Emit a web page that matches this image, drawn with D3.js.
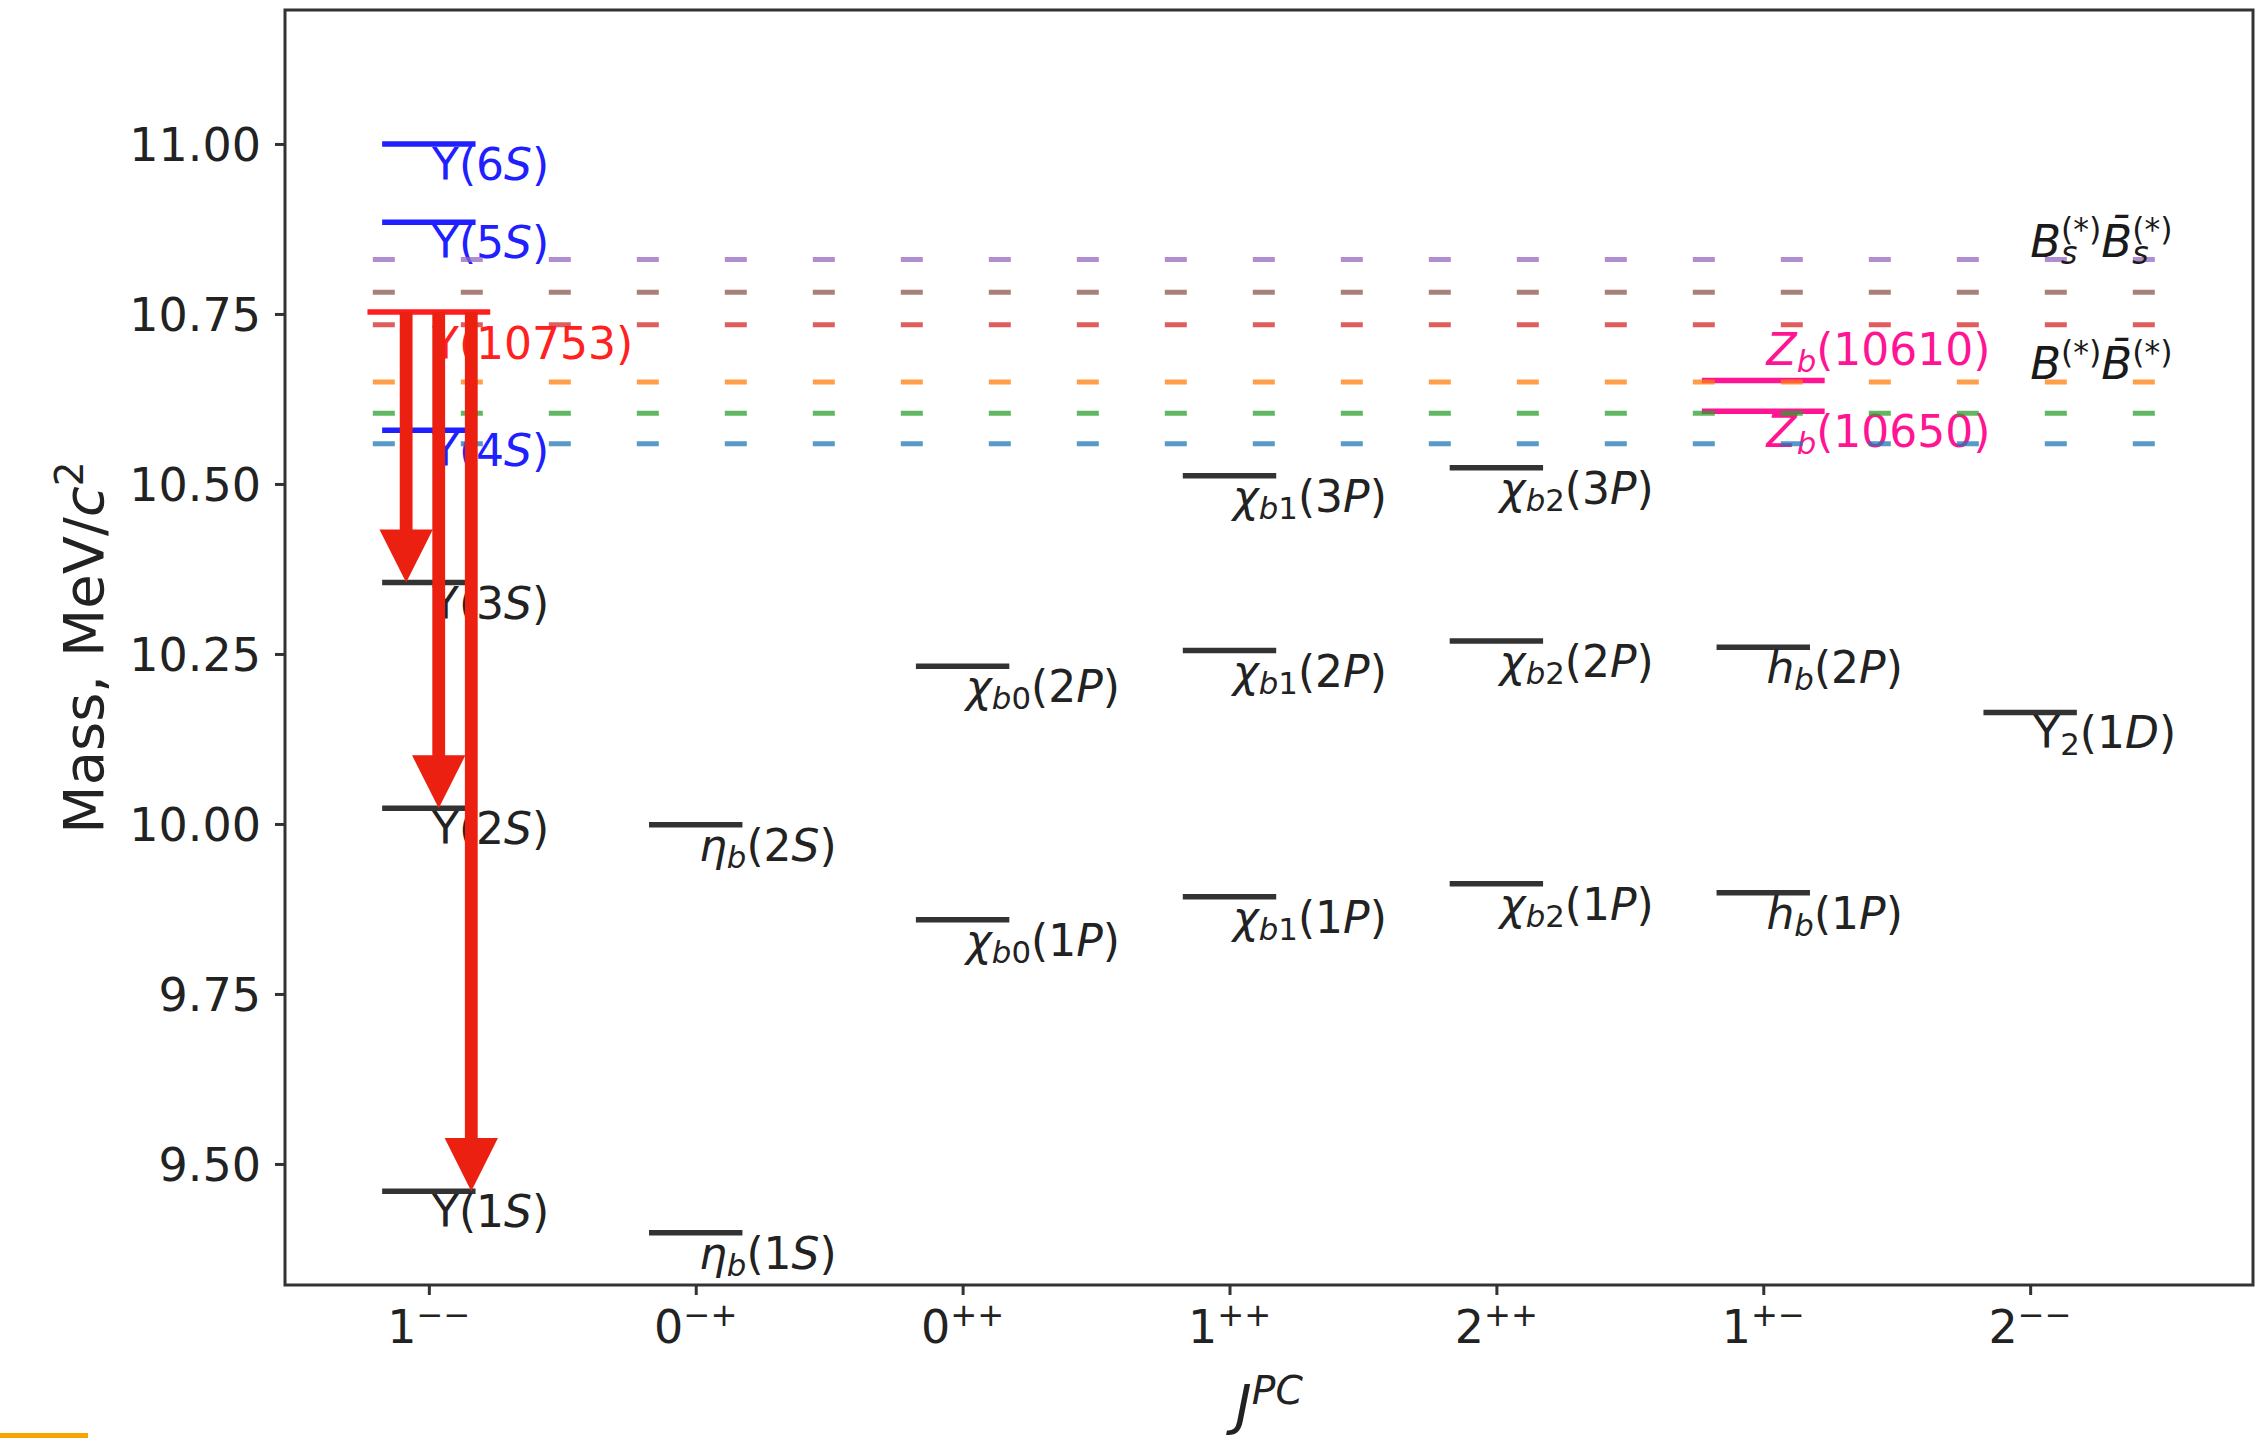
<!DOCTYPE html>
<html>
<head>
<meta charset="utf-8">
<script src="https://cdn.jsdelivr.net/npm/d3@7"></script>
<style>
  html, body { margin: 0; padding: 0; background: #fff; }
  svg text { font-family: "DejaVu Sans", sans-serif; white-space: pre; }
</style>
</head>
<body>
<svg id="chart" width="2256" height="1438"></svg>
<script>
// ---- J^PC columns and mass axis ----
const jpcLabels = ["1^{−−}", "0^{−+}", "0^{++}", "1^{++}", "2^{++}", "1^{+−}", "2^{−−}"];
const massTicks = [9.50, 9.75, 10.00, 10.25, 10.50, 10.75, 11.00];

// ---- bottomonium(-like) states: label markup (~ toggles italic), J^PC column, mass in GeV ----
const stateNames = [
  "Υ(1~S~)", "Υ(2~S~)", "Υ(3~S~)", "Υ(4~S~)", "Υ(5~S~)", "Υ(6~S~)", "Υ(10753)",
  "~η~_{~b~}(1~S~)", "~η~_{~b~}(2~S~)",
  "~χ~_{~b~0}(1~P~)", "~χ~_{~b~0}(2~P~)",
  "~χ~_{~b~1}(1~P~)", "~χ~_{~b~1}(2~P~)", "~χ~_{~b~1}(3~P~)",
  "~χ~_{~b~2}(1~P~)", "~χ~_{~b~2}(2~P~)", "~χ~_{~b~2}(3~P~)",
  "~h~_{~b~}(1~P~)", "~h~_{~b~}(2~P~)",
  "Υ_{2}(1~D~)",
  "~Z~_{~b~}(10610)", "~Z~_{~b~}(10650)"
];
const stateJPC = [0, 0, 0, 0, 0, 0, 0, 1, 1, 2, 2, 3, 3, 3, 4, 4, 4, 5, 5, 6, 5, 5];
const stateMass = [
  9.460, 10.023, 10.355, 10.579, 10.885, 11.000, 10.753,
  9.399, 9.999,
  9.859, 10.232,
  9.893, 10.255, 10.512,
  9.912, 10.269, 10.524,
  9.899, 10.260,
  10.164,
  10.607, 10.652
];
// bb: below open-bottom threshold, above: Υ above threshold, exotic: Y(10753), zb: charged Z_b
const stateKind = [
  "bb", "bb", "bb", "above", "above", "above", "exotic",
  "bb", "bb", "bb", "bb", "bb", "bb", "bb", "bb", "bb", "bb", "bb", "bb", "bb",
  "zb", "zb"
];

// ---- transitions drawn as arrows (indices into the state arrays) ----
const transitionFrom = [6, 6, 6];
const transitionTo = [2, 1, 0];

// ---- open-bottom thresholds (GeV): BB, BB*, B*B*, BsBs, BsBs*, Bs*Bs* ----
const thresholdMass = [10.559, 10.604, 10.650, 10.734, 10.782, 10.830];
const thresholdLabelText = ["~B~^{(*)}~B\u0304~^{(*)}", "~B~_{~s~}^{(*)}~B\u0304~_{~s~}^{(*)}"];
const thresholdLabelMass = [10.650, 10.830];

// ---- styles ----
const thresholdColors = ["#1f77b4", "#2ca02c", "#ff7f0e", "#d62728", "#8c564b", "#9467bd"];
const kindLine = { bb: "#333333", above: "#1f1fff", exotic: "#ff1f1f", zb: "#ff1493" };
const kindText = { bb: "#222222", above: "#2020ff", exotic: "#ff2020", zb: "#ff1493" };
const arrowColor = "#eb2010";

const plot = { left: 285, right: 2253, top: 10, bottom: 1285 };

const svg = d3.select("#chart");
const x = d3.scaleLinear().domain([-0.539, 6.835]).range([plot.left, plot.right]);
const y = d3.scaleLinear().domain([9.322, 11.197]).range([plot.bottom, plot.top]);

// ---- tiny mathtext-like renderer: ~italic~, _{sub}, ^{sup} ----
function parseRich(src) {
  const items = [];
  let italic = false, i = 0;
  const pushRun = (t, it) => {
    const last = items[items.length - 1];
    if (last && last.type === "run" && last.italic === it) last.text += t;
    else items.push({ type: "run", text: t, italic: it });
  };
  while (i < src.length) {
    const c = src[i];
    if (c === "~") { italic = !italic; i++; continue; }
    if ((c === "_" || c === "^") && src[i + 1] === "{") {
      let depth = 1, j = i + 2;
      while (j < src.length && depth > 0) {
        if (src[j] === "{") depth++; else if (src[j] === "}") depth--;
        j++;
      }
      const runs = parseRich(src.slice(i + 2, j - 1)).filter(d => d.type === "run");
      const key = c === "_" ? "sub" : "sup";
      const last = items[items.length - 1];
      if (last && last.type === "script" && !last[key]) last[key] = runs;
      else items.push({ type: "script", [key]: runs });
      i = j; continue;
    }
    pushRun(c, italic); i++;
  }
  return items;
}

const scratch = svg.append("text").attr("visibility", "hidden");
function measure(run, fs) {
  scratch.attr("font-size", fs).attr("font-style", run.italic ? "italic" : "normal").text(run.text);
  return scratch.node().getComputedTextLength();
}

// one <text> per label, each run placed as an absolutely positioned tspan
function richText(parent, src, opt) {
  const size = opt.size, fill = opt.fill || "#222";
  const pieces = [];
  let cx = 0;
  const place = (run, px, py, fs) => {
    const w = measure(run, fs);
    pieces.push({ run, px, py, fs });
    return w;
  };
  parseRich(src).forEach(it => {
    if (it.type === "run") { cx += place(it, cx, 0, size); return; }
    let wSub = 0, wSup = 0;
    if (it.sub) { let sx = cx; it.sub.forEach(r => { sx += place(r, sx, size * 0.16, size * 0.7); }); wSub = sx - cx; }
    if (it.sup) { let sx = cx; it.sup.forEach(r => { sx += place(r, sx, -size * 0.36, size * 0.7); }); wSup = sx - cx; }
    cx += Math.max(wSub, wSup);
  });
  const shift = opt.anchor === "middle" ? -cx / 2 : opt.anchor === "end" ? -cx : 0;
  const t = parent.append("text")
    .attr("transform", `translate(${opt.x},${opt.y}) rotate(${opt.rotate || 0})`)
    .attr("fill", fill);
  pieces.forEach(p => {
    t.append("tspan")
      .attr("x", p.px + shift).attr("y", p.py)
      .attr("font-size", p.fs)
      .attr("font-style", p.run.italic ? "italic" : "normal")
      .text(p.run.text);
  });
  return t;
}

// ---- axes ----
const yAxis = d3.axisLeft(y).tickValues(massTicks).tickFormat(d3.format(".2f"))
  .tickSize(10).tickSizeOuter(0).tickPadding(14);
const gy = svg.append("g").attr("transform", `translate(${plot.left},0)`).call(yAxis);
gy.select(".domain").remove();
gy.selectAll(".tick line").attr("stroke", "#333").attr("stroke-width", 3);
gy.selectAll(".tick text")
  .attr("font-size", 46).attr("font-family", "DejaVu Sans").attr("fill", "#222")
  .attr("dy", "0.365em");

const xAxis = d3.axisBottom(x).tickValues(d3.range(jpcLabels.length)).tickFormat(() => "")
  .tickSize(10).tickSizeOuter(0);
const gx = svg.append("g").attr("transform", `translate(0,${plot.bottom})`).call(xAxis);
gx.select(".domain").remove();
gx.selectAll(".tick line").attr("stroke", "#333").attr("stroke-width", 3);
gx.selectAll(".tick text").remove();
jpcLabels.forEach((lab, i) => {
  richText(svg, lab, { x: x(i), y: 1343, size: 46, anchor: "middle" });
});

// axis titles
richText(svg, "~J~^{~PC~}", { x: (plot.left + plot.right) / 2, y: 1424, size: 56, anchor: "middle" });
richText(svg, "Mass, MeV/~c~^{2}", { x: 103, y: (plot.top + plot.bottom) / 2, size: 56, anchor: "middle", rotate: -90 });

// ---- energy levels ----
const halfWidth = k => (k === "exotic" || k === "zb") ? 0.23 : 0.175;
const levels = stateMass.map((m, i) => ({ name: stateNames[i], col: stateJPC[i], mass: m, kind: stateKind[i] }));

svg.append("g").selectAll("line").data(levels).join("line")
  .attr("x1", d => x(d.col - halfWidth(d.kind)))
  .attr("x2", d => x(d.col + halfWidth(d.kind)))
  .attr("y1", d => y(d.mass)).attr("y2", d => y(d.mass))
  .attr("stroke", d => kindLine[d.kind])
  .attr("stroke-width", 5.5);

// labels hang just below each level; the two Z_b labels bracket their pair
const labelSize = 44;
const zb = levels.filter(d => d.kind === "zb").sort((a, b) => a.mass - b.mass);
const gLabels = svg.append("g");
levels.forEach(d => {
  let base = y(d.mass) + (d.kind === "exotic" ? 47 : 36);
  if (d.kind === "zb") {
    const top = d3.max(zb, e => e.mass), bottom = d3.min(zb, e => e.mass);
    base = d === zb[0] ? y(top) - 16 : y(bottom) + 36;
  }
  richText(gLabels, d.name, { x: x(d.col + 0.012), y: base, size: labelSize, fill: kindText[d.kind] });
});

// ---- open-bottom thresholds ----
svg.append("g").selectAll("line").data(thresholdMass).join("line")
  .attr("x1", x(-0.21)).attr("x2", x(6.5))
  .attr("y1", d => y(d)).attr("y2", d => y(d))
  .attr("stroke", (d, i) => thresholdColors[i])
  .attr("stroke-opacity", 0.75)
  .attr("stroke-width", 5)
  .attr("stroke-dasharray", "22,66");

thresholdLabelText.forEach((t, i) => {
  richText(svg, t, { x: x(6.0), y: y(thresholdLabelMass[i]) - 3, size: 45, fill: "#1a1a1a" });
});

// ---- transition arrows ----
const shaftHalf = x(0.024) - x(0), headHalf = x(0.1) - x(0);
const gArrows = svg.append("g");
transitionFrom.forEach((from, i) => {
  const a = levels[from], b = levels[transitionTo[i]];
  const xc = x(a.col - 0.085 + i * 0.122);
  const y0 = y(a.mass), y1 = y(b.mass);
  const hl = y(b.mass) - y(b.mass + 0.078);
  const pts = [
    [xc - shaftHalf, y0], [xc + shaftHalf, y0], [xc + shaftHalf, y1 - hl],
    [xc + headHalf, y1 - hl], [xc, y1], [xc - headHalf, y1 - hl], [xc - shaftHalf, y1 - hl]
  ];
  gArrows.append("path").attr("d", d3.line()(pts) + "Z").attr("fill", arrowColor);
});

// ---- frame ----
svg.append("rect")
  .attr("x", plot.left).attr("y", plot.top)
  .attr("width", plot.right - plot.left).attr("height", plot.bottom - plot.top)
  .attr("fill", "none").attr("stroke", "#333").attr("stroke-width", 3);

// corner marker
svg.append("rect").attr("x", 0).attr("y", 1433).attr("width", 88).attr("height", 5).attr("fill", "#f7a600");
scratch.remove();
</script>
</body>
</html>
